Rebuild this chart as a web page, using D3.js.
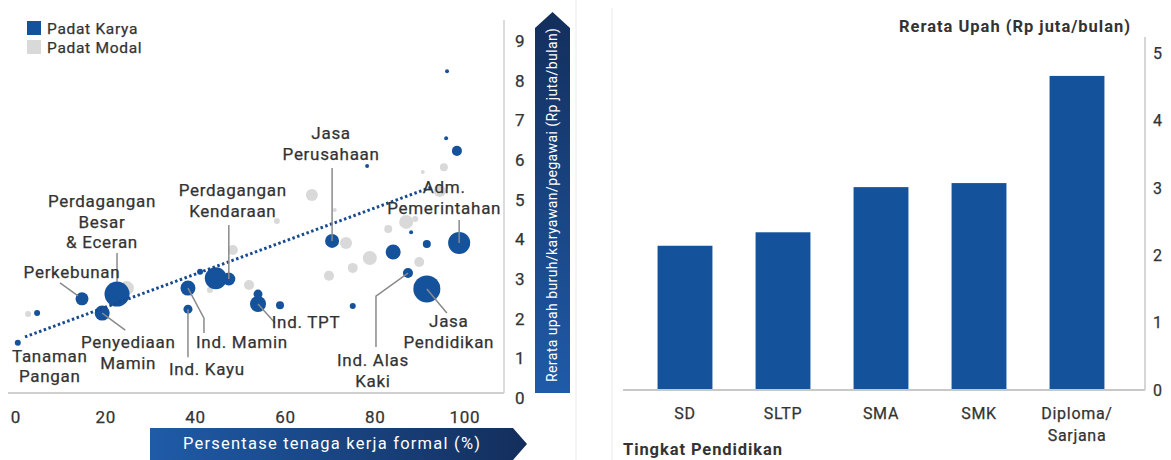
<!DOCTYPE html>
<html>
<head>
<meta charset="utf-8">
<script src="https://cdn.jsdelivr.net/npm/d3@7"></script>
<style>
  body { margin: 0; background: #fff; }
  svg { display: block; font-family: Roboto, "Open Sans", sans-serif; }
  .lbl { stroke: #333; stroke-width: 0.25px; letter-spacing: 0.7px; }
</style>
</head>
<body>
<svg id="chart" width="1171" height="460"></svg>
<script>
// ---- left panel: bubbles (x = % formal, y = wage, s = relative size)
let karyaX = [0.4, 4.7, 14.7, 22.5, 19.2, 38.3, 38.3, 44.5, 47.4, 41, 53.9, 53.9, 58.8, 70.4, 84, 91.5, 98.7, 87.3, 91.5, 75, 88, 98.2, 95.8, 96, 78.2];
let karyaY = [1.39, 2.14, 2.5, 2.62, 2.14, 2.24, 2.77, 3.02, 3.0, 3.18, 2.37, 2.62, 2.34, 3.96, 3.68, 3.88, 3.91, 3.15, 2.75, 2.32, 4.18, 6.23, 6.55, 8.24, 5.85];
let karyaS = [4.6, 4.6, 21.6, 80, 28.7, 10.3, 28.7, 62, 21.6, 4.6, 32.7, 10.3, 8.2, 25, 28.7, 8.2, 62, 12.8, 93, 4.6, 2, 12.8, 2, 2, 2];

let modalX = [2.7, 24.7, 73.5, 78.8, 75, 69.7, 82.9, 86.9, 88.9, 89.8, 65.9, 95.3, 90.6, 94.4, 58.1, 48.3, 51.9, 43.2, 71];
let modalY = [2.12, 2.77, 3.91, 3.53, 3.28, 3.08, 4.26, 4.44, 4.51, 3.43, 5.12, 5.82, 5.7, 5.22, 4.46, 3.73, 2.85, 2.72, 4.74];
let modalS = [4.6, 25, 18.4, 25, 12.8, 12.8, 8.2, 25, 4.6, 12.8, 18.4, 8.2, 2, 18.4, 4.6, 12.8, 12.8, 4.6, 2];

let trendX = [2, 92.6];
let trendY = [1.54, 5.32];

let xTicks = [0, 20, 40, 60, 80, 100];
let yTicks = [0, 1, 2, 3, 4, 5, 6, 7, 8, 9];

// labelled sectors: index into the karya arrays
let noteNames = [
  ["Tanaman", "Pangan"],
  ["Perdagangan", "Besar", "& Eceran"],
  ["Perkebunan"],
  ["Penyediaan", "Mamin"],
  ["Ind. Kayu"],
  ["Ind. Mamin"],
  ["Perdagangan", "Kendaraan"],
  ["Ind. TPT"],
  ["Jasa", "Perusahaan"],
  ["Adm.", "Pemerintahan"],
  ["Ind. Alas", "Kaki"],
  ["Jasa", "Pendidikan"]
];
let noteBubble = [0, 3, 2, 4, 5, 6, 8, 10, 13, 16, 17, 18];

// ---- right panel: bars
let levels = ["SD", "SLTP", "SMA", "SMK", "Diploma/Sarjana"];
let wages = [2.14, 2.34, 3.01, 3.07, 4.66];
let wageTicks = [0, 1, 2, 3, 4, 5];

// layout for the annotations (pixel offsets from the bubble centre)
let noteLayout = [
  {dx: 32, dy: 19, lead: null},
  {dx: -15, dy: -87, lead: [[0, -41], [0, -12]]},
  {dx: -10, dy: -21, lead: [[-22, -16], [-4, -3]]},
  {dx: 26, dy: 35, lead: [[0, 0], [23, 17]]},
  {dx: 19, dy: 66, lead: [[0, 0], [0, 48]]},
  {dx: 54, dy: 60, lead: [[0, 0], [16, 30], [16, 45]]},
  {dx: 4, dy: -83, lead: [[0, -54], [0, 0]]},
  {dx: 48, dy: 24, lead: [[0, 0], [17, 19]]},
  {dx: -1, dy: -102, lead: [[0, -73], [0, 0]]},
  {dx: -15, dy: -50, lead: [[0, -23], [0, 0]]},
  {dx: -35, dy: 93, lead: [[0, 0], [-32, 23], [-32, 74]]},
  {dx: 22, dy: 38, lead: [[0, 0], [20, 24]]}
];

let blue = "#15529c";
let grey = "#d9d9d9";
let textCol = "#333";

let svg = d3.select("#chart");

let defs = svg.append("defs");
let gv = defs.append("linearGradient").attr("id", "gv")
  .attr("x1", 0).attr("y1", 0).attr("x2", 0).attr("y2", 1);
gv.append("stop").attr("offset", "0%").attr("stop-color", "#132e5c");
gv.append("stop").attr("offset", "100%").attr("stop-color", "#1f5ba8");
let gh = defs.append("linearGradient").attr("id", "gh")
  .attr("x1", 0).attr("y1", 0).attr("x2", 1).attr("y2", 0);
gh.append("stop").attr("offset", "0%").attr("stop-color", "#1f5ba8");
gh.append("stop").attr("offset", "100%").attr("stop-color", "#132e5c");

// faint panel borders
svg.append("line").attr("x1", 576).attr("x2", 576).attr("y1", 0).attr("y2", 460)
  .attr("stroke", "#f2f2f2").attr("stroke-width", 1.5);
svg.append("line").attr("x1", 612).attr("x2", 612).attr("y1", 8).attr("y2", 460)
  .attr("stroke", "#f2f2f2").attr("stroke-width", 1.5);

// ================= left panel =================
let x = d3.scaleLinear().domain([0, 100]).range([16, 465]);
let y = d3.scaleLinear().domain([0, 9]).range([398, 41]);
let r = d3.scaleSqrt().domain([0, 100]).range([0, 14]);

let left = svg.append("g");

left.append("line").attr("x1", 8).attr("x2", 504).attr("y1", 393).attr("y2", 393)
  .attr("stroke", "#d0d0d0").attr("stroke-width", 2);
left.append("line").attr("x1", 504).attr("x2", 504).attr("y1", 20).attr("y2", 393)
  .attr("stroke", "#d0d0d0").attr("stroke-width", 1.5);

left.selectAll("text.xt")
  .data(xTicks)
  .enter()
  .append("text")
  .attr("class", "xt lbl")
  .attr("x", d => x(d))
  .attr("y", 423)
  .attr("text-anchor", "middle")
  .attr("font-size", 17)
  .attr("fill", textCol)
  .text(d => d);

left.selectAll("text.yt")
  .data(yTicks)
  .enter()
  .append("text")
  .attr("class", "yt lbl")
  .attr("x", 515)
  .attr("y", d => y(d))
  .attr("dy", "0.36em")
  .attr("font-size", 17)
  .attr("fill", textCol)
  .text(d => d);

let modal = modalX.map((v, i) => ({x: v, y: modalY[i], s: modalS[i]}));
let karya = karyaX.map((v, i) => ({x: v, y: karyaY[i], s: karyaS[i]}));

left.selectAll("circle.modal")
  .data(modal)
  .enter()
  .append("circle")
  .attr("class", "modal")
  .attr("cx", d => x(d.x))
  .attr("cy", d => y(d.y))
  .attr("r", d => r(d.s))
  .attr("fill", grey);

left.selectAll("circle.karya")
  .data(karya)
  .enter()
  .append("circle")
  .attr("class", "karya")
  .attr("cx", d => x(d.x))
  .attr("cy", d => y(d.y))
  .attr("r", d => r(d.s))
  .attr("fill", blue);

left.append("line")
  .attr("x1", x(trendX[0])).attr("y1", y(trendY[0]))
  .attr("x2", x(trendX[1])).attr("y2", y(trendY[1]))
  .attr("stroke", "#174a8f")
  .attr("stroke-width", 3)
  .attr("stroke-dasharray", "2.5,2.5");

let lineGen = d3.line();
noteNames.forEach((lines, i) => {
  let b = karya[noteBubble[i]];
  let bx = x(b.x), by = y(b.y);
  let lay = noteLayout[i];
  if (lay.lead) {
    left.append("path")
      .attr("d", lineGen(lay.lead.map(p => [bx + p[0], by + p[1]])))
      .attr("fill", "none")
      .attr("stroke", "#8a8a8a")
      .attr("stroke-width", 1.5);
  }
  let t = left.append("text")
    .attr("class", "lbl")
    .attr("text-anchor", "middle")
    .attr("font-size", 17)
    .attr("fill", textCol);
  lines.forEach((ln, j) => {
    t.append("tspan")
      .attr("x", bx + lay.dx)
      .attr("y", by + lay.dy + j * 20.6)
      .text(ln);
  });
});

// legend
let legend = left.append("g");
[["Padat Karya", blue], ["Padat Modal", grey]].forEach((d, i) => {
  legend.append("rect").attr("x", 27).attr("y", 21 + i * 19)
    .attr("width", 14).attr("height", 14).attr("fill", d[1]);
  legend.append("text").attr("class", "lbl").attr("x", 47).attr("y", 33.5 + i * 19)
    .attr("font-size", 15.5).attr("fill", textCol).text(d[0]);
});

// axis banners
left.append("path")
  .attr("d", "M150,428 L513,428 L527,444 L513,460 L150,460 Z")
  .attr("fill", "url(#gh)");
left.append("text")
  .attr("x", 183).attr("y", 449)
  .attr("font-size", 16.5)
  .attr("textLength", 297)
  .attr("lengthAdjust", "spacing")
  .attr("fill", "#fff")
  .text("Persentase tenaga kerja formal (%)");

left.append("path")
  .attr("d", "M535,393 L535,28 L552.5,12 L570,28 L570,393 Z")
  .attr("fill", "url(#gv)");
left.append("text")
  .attr("transform", "translate(557,382) rotate(-90)")
  .attr("font-size", 14)
  .attr("textLength", 354)
  .attr("lengthAdjust", "spacing")
  .attr("fill", "#fff")
  .text("Rerata upah buruh/karyawan/pegawai (Rp juta/bulan)");

// ================= right panel =================
let xb = d3.scaleBand().domain(levels).range([636, 1126]).paddingInner(0.44).paddingOuter(0.22);
let yb = d3.scaleLinear().domain([0, 5]).range([390, 53]);

let right = svg.append("g");

right.selectAll("rect.bar")
  .data(levels)
  .enter()
  .append("rect")
  .attr("class", "bar")
  .attr("x", d => xb(d))
  .attr("width", xb.bandwidth())
  .attr("y", (d, i) => yb(wages[i]))
  .attr("height", (d, i) => yb(0) - yb(wages[i]))
  .attr("fill", blue);

right.append("line").attr("x1", 623).attr("x2", 1145).attr("y1", yb(0)).attr("y2", yb(0))
  .attr("stroke", "#c8c8c8").attr("stroke-width", 2);
right.append("line").attr("x1", 1145).attr("x2", 1145).attr("y1", 37).attr("y2", yb(0))
  .attr("stroke", "#c8c8c8").attr("stroke-width", 1.5);

right.selectAll("text.wt")
  .data(wageTicks)
  .enter()
  .append("text")
  .attr("class", "wt lbl")
  .attr("x", 1153)
  .attr("y", d => yb(d))
  .attr("dy", "0.36em")
  .attr("font-size", 16)
  .attr("fill", textCol)
  .text(d => d);

right.selectAll("text.cat")
  .data(levels)
  .enter()
  .append("text")
  .attr("class", "cat lbl")
  .attr("text-anchor", "middle")
  .attr("font-size", 16)
  .attr("fill", textCol)
  .each(function(d) {
    let parts = d === "Diploma/Sarjana" ? ["Diploma/", "Sarjana"] : [d];
    parts.forEach((p, j) => {
      d3.select(this).append("tspan")
        .attr("x", xb(d) + xb.bandwidth() / 2)
        .attr("y", 419 + j * 22)
        .text(p);
    });
  });

right.append("text")
  .attr("x", 899).attr("y", 32)
  .attr("font-size", 16.5)
  .attr("font-weight", "bold")
  .attr("textLength", 231)
  .attr("lengthAdjust", "spacing")
  .attr("fill", "#333")
  .text("Rerata Upah (Rp juta/bulan)");

right.append("text")
  .attr("x", 623).attr("y", 455)
  .attr("font-size", 16.5)
  .attr("font-weight", "bold")
  .attr("textLength", 159)
  .attr("lengthAdjust", "spacing")
  .attr("fill", "#333")
  .text("Tingkat Pendidikan");
</script>
</body>
</html>
